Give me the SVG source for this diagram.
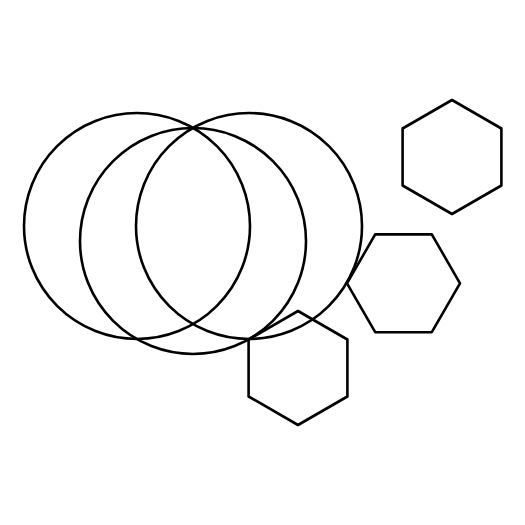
<svg xmlns="http://www.w3.org/2000/svg" width="525" height="525" viewBox="0 0 525 525">
<style>
.s{fill:none;stroke:#000;stroke-width:2.6;stroke-linejoin:round}
</style>
<rect width="525" height="525" fill="#fff"/>
<g id="circle-left"><circle class="s" cx="137" cy="226" r="113"/></g>
<g id="circle-middle"><circle class="s" cx="193" cy="241" r="113"/></g>
<g id="circle-right"><circle class="s" cx="249" cy="226" r="113"/></g>
<g id="hex-top"><polygon class="s" points="452,100 501.4,128.5 501.4,185.5 452,214 402.6,185.5 402.6,128.5"/></g>
<g id="hex-middle"><polygon class="s" points="347,283.3 375.2,234.4 431.8,234.4 460,283.3 431.8,332.2 375.2,332.2"/></g>
<g id="hex-bottom"><polygon class="s" points="298,311 347.4,339.5 347.4,396.5 298,425 248.6,396.5 248.6,339.5"/></g>
</svg>
